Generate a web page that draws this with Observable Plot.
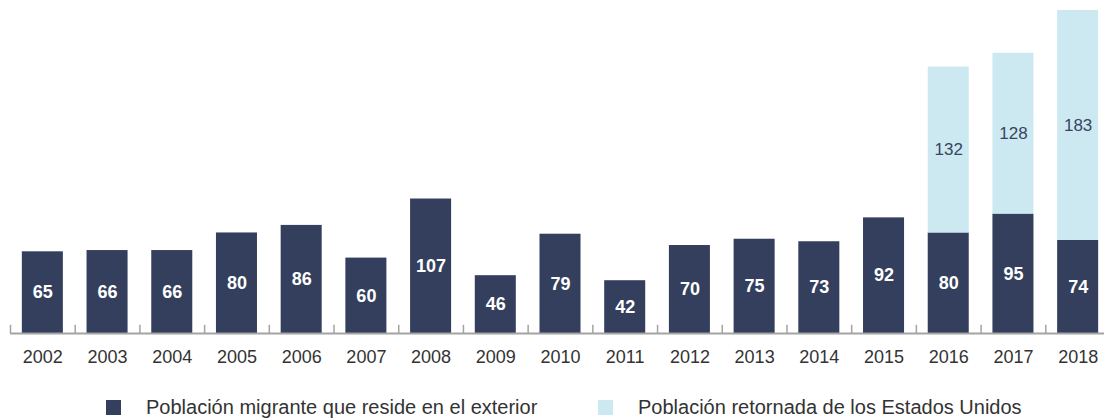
<!DOCTYPE html>
<html>
<head>
<meta charset="utf-8">
<script src="https://cdn.jsdelivr.net/npm/d3@7"></script>
<script src="https://cdn.jsdelivr.net/npm/@observablehq/plot@0.6"></script>
<style>
  body { margin: 0; background: #fff; font-family: "Liberation Sans", Arial, sans-serif; }
  #chart svg { display: block; }
  .legend { position: relative; width: 1104px; height: 39px; }
  .item { position: absolute; top: 20px; display: flex; align-items: center; height: 15px; font-size: 20px; color: #333; white-space: nowrap; }
  .sw { width: 15px; height: 15px; margin-right: 25px; flex: none; }
</style>
</head>
<body>
<div id="chart"></div>
<div class="legend" id="legend"></div>
<script>
const years = ["2002","2003","2004","2005","2006","2007","2008","2009","2010","2011","2012","2013","2014","2015","2016","2017","2018"];
const migrantes = [65, 66, 66, 80, 86, 60, 107, 46, 79, 42, 70, 75, 73, 92, 80, 95, 74];
const retornados = [null, null, null, null, null, null, null, null, null, null, null, null, null, null, 132, 128, 183];
const series = ["Población migrante que reside en el exterior", "Población retornada de los Estados Unidos"];
const colors = ["#333f5d", "#cce8f1"];

const rows = [];
years.forEach((yr, i) => {
  rows.push({year: yr, serie: series[0], value: migrantes[i]});
  if (retornados[i] != null) rows.push({year: yr, serie: series[1], value: retornados[i]});
});

const xRange = [10, 1110];
const step = (xRange[1] - xRange[0]) / years.length;

const chart = Plot.plot({
  width: 1104,
  height: 380,
  marginLeft: 10,
  marginRight: 0,
  marginTop: 10,
  marginBottom: 47,
  style: {fontFamily: "'Liberation Sans', Arial, sans-serif"},
  x: {type: "band", domain: years, range: xRange, paddingInner: 0.366, paddingOuter: 0.183, round: false, axis: null},
  y: {domain: [0, 257], range: [333, 10], axis: null},
  color: {domain: series, range: colors},
  marks: [
    Plot.barY(rows, Plot.stackY({x: "year", y: "value", fill: "serie"})),
    Plot.text(rows.filter(d => d.serie === series[0]), Plot.stackY({x: "year", y: "value", text: d => d.value, fill: "#ffffff", fontWeight: "bold", fontSize: 18})),
    Plot.text(rows.filter(d => d.serie === series[1]).map(d => ({...d, base: migrantes[years.indexOf(d.year)]})), {x: "year", y: d => d.base + d.value / 2, text: d => d.value, fill: "#39445f", fontSize: 17}),
    Plot.ruleY([0], {stroke: "#a3a3a3", strokeWidth: 2}),
    Plot.ruleX(years, {x: d => d, y1: 0, y2: 6.5, dx: -step / 2, stroke: "#a3a3a3", strokeWidth: 1.5}),
    Plot.text(years, {x: d => d, y: 0, text: d => d, dy: 24, fontSize: 18, fill: "#333333"})
  ]
});
document.getElementById("chart").appendChild(chart);

const legend = document.getElementById("legend");
const lefts = [106, 598];
series.forEach((s, i) => {
  const it = document.createElement("div");
  it.className = "item";
  it.style.left = lefts[i] + "px";
  const sw = document.createElement("span");
  sw.className = "sw";
  sw.style.background = colors[i];
  const tx = document.createElement("span");
  tx.textContent = s;
  it.appendChild(sw);
  it.appendChild(tx);
  legend.appendChild(it);
});
</script>
</body>
</html>
